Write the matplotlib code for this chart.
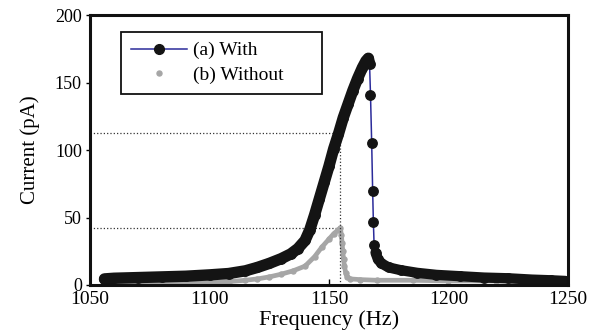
import numpy as np
import matplotlib.pyplot as plt
from matplotlib.lines import Line2D

plt.rcParams['font.family'] = ['Liberation Serif', 'DejaVu Serif']

# (a) With  -- frequency (Hz), current (pA)
with_freq = [1056, 1060, 1070, 1080, 1090, 1100, 1108, 1115, 1120, 1125, 1130,
             1134, 1137, 1140, 1142, 1144, 1146, 1148, 1150, 1152, 1154, 1156,
             1158, 1160, 1162, 1164, 1165.5, 1166.5, 1167.0,
             1167.4, 1167.9, 1168.3, 1168.6, 1168.9,
             1169.5, 1170.5, 1172, 1175, 1180, 1187, 1195, 1205, 1215, 1225,
             1235, 1243, 1249]
with_curr = [4.5, 5, 5.5, 6, 6.5, 7.5, 8.5, 10.5, 13, 16, 19.5,
             23, 27, 33, 41, 52, 64, 76, 88, 101, 112, 124,
             134, 144, 153, 161, 166, 168, 164,
             141, 105, 70, 47, 30,
             24, 19, 16, 13, 11, 9, 7.5, 6.5, 5.5, 5,
             4, 3.5, 3]

# (b) Without
without_freq = [1056, 1070, 1085, 1100, 1108, 1115, 1120, 1125, 1130, 1135,
                1140, 1144, 1147, 1150, 1152, 1154, 1154.8,
                1155.2, 1155.5, 1155.8, 1156.1, 1156.5, 1157, 1157.6,
                1159, 1163, 1170, 1185, 1200, 1220, 1240, 1250]
without_curr = [1.5, 1.5, 1.5, 2, 2.5, 3.5, 4.5, 6, 8, 10.5,
                14, 21, 28, 34, 38, 41, 42,
                37, 31, 25, 19, 14, 9, 6,
                4.5, 4, 3.5, 3.5, 3, 3, 2.5, 2.5]

# dotted guide lines
f_mark = 1154.6
i_high = 112.5
i_low = 42

wf = np.array(with_freq)
wc = np.array(with_curr)
nf = np.array(without_freq)
nc = np.array(without_curr)

fig = plt.figure(figsize=(5.97, 3.32), dpi=100)
ax = fig.add_axes([0.151, 0.1416, 0.80, 0.813])

gray = '#a6a6a6'
blk = '#141414'
blue = '#2b2b9a'

# gray band + dots
ax.plot(nf, nc, color=gray, lw=3.4, solid_capstyle='round', zorder=2)
ax.plot(nf, nc, ls='none', marker='o', ms=3.6, color=gray, mec=gray, zorder=2)

# dotted guides
ax.plot([1050, f_mark], [i_high, i_high], ls=':', color='#333333', lw=0.9, zorder=1)
ax.plot([1050, f_mark], [i_low, i_low], ls=':', color='#333333', lw=0.9, zorder=1)
ax.plot([f_mark, f_mark], [0, i_high], ls=':', color='#333333', lw=0.9, zorder=3)

# blue connecting line under the dense black band
ax.plot(wf, wc, '-', color=blue, lw=1.1, zorder=3)
rise = wf <= 1167.0
tail = wf >= 1169.5
ax.plot(wf[rise], wc[rise], color=blk, lw=8.2, solid_capstyle='round', zorder=4)
ax.plot(wf[tail], wc[tail], color=blk, lw=7.4, solid_capstyle='round', zorder=4)
ax.plot(wf, wc, ls='none', marker='o', ms=6.8, mfc=blk, mec=blk, zorder=5)

ax.set_xlim(1050, 1250)
ax.set_ylim(0, 200)
ax.set_xticks([1050, 1100, 1150, 1200, 1250])
ax.set_yticks([0, 50, 100, 150, 200])

for s in ax.spines.values():
    s.set_linewidth(2.2)
    s.set_color('#111111')
    s.set_zorder(6)

ax.tick_params(axis='x', direction='in', length=4, width=1, labelsize=14, pad=4)
ax.tick_params(axis='y', direction='out', length=3, width=1, labelsize=13, pad=3)

ax.set_xlabel('Frequency (Hz)', fontsize=16, labelpad=2)
ax.set_ylabel('Current (pA)', fontsize=15, labelpad=11)

handles = [Line2D([], [], color=blue, lw=1.1, marker='o', ms=7, mfc=blk, mec=blk),
           Line2D([], [], ls='none', marker='o', ms=3.6, color=gray)]
labels = ['(a) With', '(b) Without']
leg = ax.legend(handles, labels, loc='upper left',
                bbox_to_anchor=(0.065, 0.696, 0.42, 0.241), mode='expand',
                borderaxespad=0, fancybox=False, edgecolor='#111111',
                fontsize=14, handlelength=2.9, handletextpad=0.3,
                labelspacing=0.35, borderpad=0.5, framealpha=1)
leg.get_frame().set_linewidth(1.3)

fig.savefig('out.png', dpi=100)
